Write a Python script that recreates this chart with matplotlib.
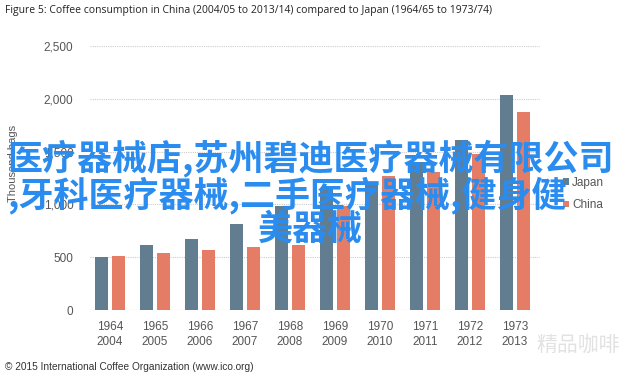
import numpy as np
import matplotlib
matplotlib.use('Agg')
from matplotlib import pyplot as plt

# data (thousand bags)
years_japan = ['1964', '1965', '1966', '1967', '1968', '1969', '1970', '1971', '1972', '1973']
years_china = ['2004', '2005', '2006', '2007', '2008', '2009', '2010', '2011', '2012', '2013']
japan = [500, 615, 673, 816, 990, 1150, 1212, 1400, 1609, 2036]
china = [512, 543, 571, 600, 616, 985, 1265, 1305, 1480, 1872]
yticks = [0, 500, 1000, 1500, 2000, 2500]

c_japan = '#627d8f'
c_china = '#e57d66'
grey = '#555555'

plt.rcParams['font.family'] = ['Liberation Sans', 'DejaVu Sans']

fig = plt.figure(figsize=(6.4, 3.77), dpi=100)
ax = fig.add_axes([0.1406, 0.1777, 0.703, 0.700])

x = np.arange(len(years_japan))
w = 0.29
ax.bar(x - 0.19, japan, w, color=c_japan, label='Japan', zorder=3)
ax.bar(x + 0.19, china, w, color=c_china, label='China', zorder=3)

ax.set_xlim(-0.444, 9.556)
ax.set_ylim(0, 2500)
ax.set_yticks(yticks)
ax.set_yticklabels(['{:,}'.format(v) for v in yticks], fontsize=8.5, color=grey)
ax.set_xticks(x)
ax.set_xticklabels([a + '\n' + b for a, b in zip(years_japan, years_china)],
                   fontsize=8.5, color=grey, linespacing=1.3)
ax.tick_params(axis='y', length=0, pad=12)
ax.tick_params(axis='x', length=0, pad=8)
ax.grid(axis='y', color='#cccccc', linestyle=(0, (1, 1)), linewidth=0.8, zorder=0)
for s in ax.spines.values():
    s.set_visible(False)
ax.axhline(0, color='#dddddd', linewidth=0.8, zorder=2)
ax.set_ylabel('Thousand bags', fontsize=8, color=grey)
ax.yaxis.set_label_coords(-0.16, 0.557)

leg = ax.legend(loc='center left', bbox_to_anchor=(1.051, 0.44), frameon=False,
                borderaxespad=0, borderpad=0,
                fontsize=8.5, handlelength=0.5, handleheight=0.5, handletextpad=0.3,
                labelspacing=0.9, labelcolor=grey)

fig.text(0.008, 0.972, 'Figure 5: Coffee consumption in China (2004/05 to 2013/14) compared to Japan (1964/65 to 1973/74)',
         fontsize=7.5, color='#222222', va='center', family=['Open Sans', 'DejaVu Sans'])
fig.text(0.008, 0.027, '\u00a9 2015 International Coffee Organization (www.ico.org)',
         fontsize=7.3, color='#333333', va='center')

# faint watermark at the bottom right
fig.text(0.838, 1 - 345 / 377, '精品咖啡', fontsize=15, color='#e2e2e2', va='center',
         family=['Noto Sans CJK SC', 'DejaVu Sans'])

# blue overlay text
ov = dict(fontsize=25.2, color='#2a8cee', fontweight='bold', va='center',
          family=['Noto Sans CJK SC', 'DejaVu Sans'])
fig.text(0.011, 1 - 158 / 377, '医疗器械店,苏州碧迪医疗器械有限公司', ha='left', **ov)
fig.text(0.011, 1 - 195 / 377, ',牙科医疗器械,二手医疗器械,健身健', ha='left', **ov)
fig.text(0.485, 1 - 229 / 377, '美器械', ha='center', **ov)

fig.savefig('out.png', dpi=100)
